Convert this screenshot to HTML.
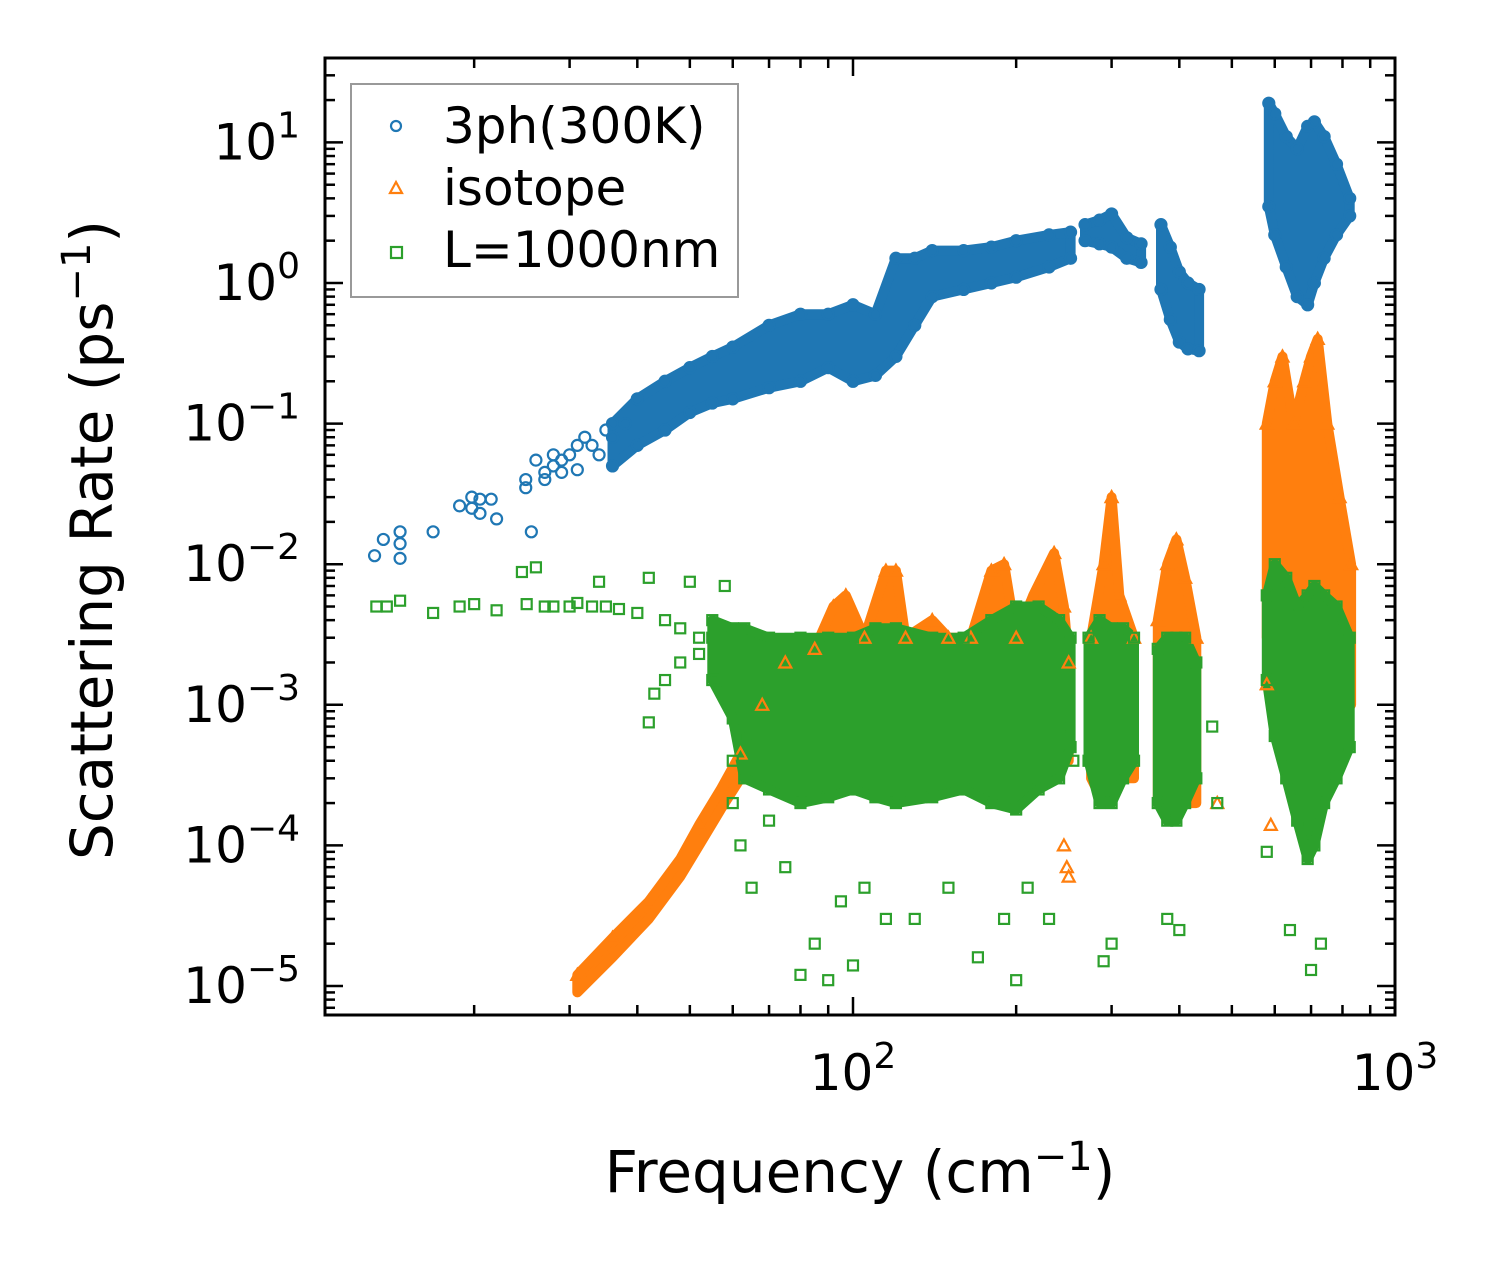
<!DOCTYPE html>
<html><head><meta charset="utf-8"><style>
html,body{margin:0;padding:0;background:#fff;}
svg{display:block;font-family:"DejaVu Sans","Liberation Sans",sans-serif;}
</style></head><body>
<svg id="chart" width="1503" height="1265" viewBox="0 0 1503 1265" xmlns="http://www.w3.org/2000/svg">
<rect x="0" y="0" width="1503" height="1265" fill="#fff"/>
<g id="bands"></g>
<g id="points"></g>
<g id="axes"></g>
<g>
<rect x="351" y="84" width="387" height="213" fill="#fff" fill-opacity="0.8" stroke="#999" stroke-width="2"/>
<g><circle cx="396" cy="126" r="5" fill="none" stroke="#1f77b4" stroke-width="2.2"/><text x="443" y="143" font-size="50">3ph(300K)</text></g>
<g><path d="M390 193 L402 193 L396 182 Z" fill="none" stroke="#ff7f0e" stroke-width="2.2"/><text x="443" y="205" font-size="50">isotope</text></g>
<g><rect x="391" y="247" width="11" height="11" fill="none" stroke="#2ca02c" stroke-width="2.2"/><text x="443" y="267" font-size="50">L=1000nm</text></g>
</g>
<text x="860" y="1192" font-size="58" text-anchor="middle">Frequency (cm<tspan dy="-22" font-size="40">−1</tspan><tspan dy="22">)</tspan></text>
<text transform="translate(112,540) rotate(-90)" font-size="58" text-anchor="middle">Scattering Rate (ps<tspan dy="-22" font-size="40">−1</tspan><tspan dy="22">)</tspan></text>
</svg>
<script>
// ---- data ----
const blueSparseF = [13.1,13.6,14.6,14.6,14.6,16.8,18.8,19.8,19.8,20.5,20.5,21.5,22,24.9,24.9,25.5,26,27,27,28,28,29,29,30,31,31,32,33,34,35,36,38];
const blueSparseY = [0.0115,0.015,0.011,0.014,0.017,0.017,0.026,0.030,0.025,0.029,0.023,0.029,0.021,0.040,0.035,0.017,0.055,0.040,0.045,0.050,0.060,0.045,0.055,0.060,0.070,0.047,0.080,0.070,0.060,0.090,0.080,0.100];
const blueClusters = [
  {f:[36,40,45,50,55,60,70,80,90,100,110,120,130,140,160,180,200,230,252], lo:[0.05,0.07,0.09,0.12,0.14,0.15,0.18,0.2,0.25,0.2,0.22,0.3,0.5,0.8,0.9,1.0,1.1,1.3,1.5], hi:[0.1,0.15,0.2,0.25,0.3,0.35,0.5,0.6,0.6,0.7,0.6,1.5,1.5,1.7,1.7,1.8,2.0,2.2,2.3]},
  {f:[268,285,300,320,340], lo:[2.0,1.9,1.8,1.5,1.4], hi:[2.6,2.8,3.1,2.1,1.9]},
  {f:[370,385,400,415,435], lo:[0.9,0.55,0.38,0.34,0.33], hi:[2.6,1.8,1.2,1.0,0.9]},
  {f:[585,600,630,660,690,710,740,780,825], lo:[3.5,2.2,1.3,0.8,0.7,1.0,1.5,2.2,3.0], hi:[19,16,11,9,13,14,11,7,4]}
];
const orangeClusters = [
  {f:[31,36,42,48,52,57,62,68,75,85,92,97,105,115,120,125,140,150,165,180,190,200,215,235,245,250], lo:[0.9e-5,1.6e-5,3e-5,6e-5,1e-4,1.8e-4,3e-4,4e-4,5e-4,5e-4,5e-4,5e-4,5e-4,5e-4,5e-4,5e-4,5e-4,5e-4,5e-4,5e-4,5e-4,5e-4,5e-4,5e-4,4e-4,4e-4], hi:[1.2e-5,2.2e-5,4e-5,8e-5,1.4e-4,2.5e-4,4.5e-4,1e-3,2e-3,2.5e-3,5e-3,6e-3,3e-3,9e-3,9e-3,3e-3,4e-3,3e-3,3e-3,9e-3,1e-2,3e-3,6e-3,1.2e-2,5e-3,2e-3]},
  {f:[275,290,300,310,330], lo:[3e-4,2e-4,2e-4,3e-4,3e-4], hi:[3e-3,1e-2,3e-2,6e-3,3e-3]},
  {f:[365,380,395,410,430], lo:[2e-4,2e-4,2e-4,2e-4,2e-4], hi:[4e-3,1e-2,1.5e-2,8e-3,3e-3]},
  {f:[580,600,620,650,680,700,720,750,790,830], lo:[3e-3,5e-3,3e-3,2e-3,1e-3,2e-3,3e-3,2e-3,1e-3,1e-3], hi:[0.1,0.2,0.3,0.1,0.2,0.3,0.4,0.1,0.03,0.01]}
];
const orangeSparseF = [245,248,250,580,590,470];
const orangeSparseY = [1e-4,7e-5,6e-5,1.4e-3,1.4e-4,2e-4];
const greenSparseF = [13.2,13.8,14.6,16.8,18.8,20,22,24.5,25,26,27,28,30,31,33,34,35,37,40,42,45,48,50,52,55,58,42,43,45,48,52,56,65,70,75,80,85,90,95,100,105,115,130,150,170,190,200,210,230,290,300,380,400,580,640,700,730,60,62,60,64,250,255,460,470];
const greenSparseY = [5e-3,5e-3,5.5e-3,4.5e-3,5e-3,5.2e-3,4.7e-3,8.8e-3,5.2e-3,9.5e-3,5e-3,5e-3,5e-3,5.3e-3,5e-3,7.5e-3,5e-3,4.8e-3,4.5e-3,8e-3,4e-3,3.5e-3,7.5e-3,3e-3,3e-3,7e-3,7.5e-4,1.2e-3,1.5e-3,2e-3,2.3e-3,1.5e-3,5e-5,1.5e-4,7e-5,1.2e-5,2e-5,1.1e-5,4e-5,1.4e-5,5e-5,3e-5,3e-5,5e-5,1.6e-5,3e-5,1.1e-5,5e-5,3e-5,1.5e-5,2e-5,3e-5,2.5e-5,9e-5,2.5e-5,1.3e-5,2e-5,2e-4,1e-4,4e-4,6e-4,7e-4,4e-4,7e-4,2e-4];
const greenClusters = [
  {f:[55,60,63,70,80,90,100,110,120,140,160,180,200,220,240,252], lo:[1.5e-3,8e-4,3e-4,2.5e-4,2e-4,2.2e-4,2.5e-4,2.2e-4,2e-4,2.2e-4,2.5e-4,2e-4,1.8e-4,2.5e-4,3e-4,5e-4], hi:[4e-3,3.5e-3,3.5e-3,3e-3,3e-3,3e-3,3e-3,3.5e-3,3.5e-3,3e-3,3e-3,4e-3,5e-3,5e-3,4e-3,3e-3]},
  {f:[272,285,300,315,330], lo:[4e-4,2e-4,2e-4,3e-4,4e-4], hi:[3e-3,4e-3,3.5e-3,3.5e-3,3e-3]},
  {f:[365,380,395,410,430], lo:[2e-4,1.5e-4,1.5e-4,2e-4,3e-4], hi:[2.5e-3,3e-3,3e-3,3e-3,2e-3]},
  {f:[580,600,630,660,690,710,740,780,825], lo:[1.5e-3,6e-4,3e-4,1.5e-4,8e-5,1e-4,2e-4,3e-4,5e-4], hi:[6e-3,1e-2,8e-3,5e-3,6e-3,7e-3,6e-3,5e-3,3e-3]}
];
const xTickVals = [100,1000];
const yTickExps = [1,0,-1,-2,-3,-4,-5];

// ---- axes ----
const L=325,R=1395,T=58,B=1015;
const X0=853, XD=542, Y0=283, YD=140.6;
const xs = f => X0 + (Math.log10(f)-2)*XD;
const ys = v => Y0 - Math.log10(v)*YD;
const NS="http://www.w3.org/2000/svg";
function mk(tag, attrs, parent){const e=document.createElementNS(NS,tag);for(const k in attrs)e.setAttribute(k,attrs[k]);parent.appendChild(e);return e;}
const bands=document.getElementById('bands'), pts=document.getElementById('points'), axes=document.getElementById('axes');
const colors={blue:'#1f77b4',orange:'#ff7f0e',green:'#2ca02c'};

function drawCluster(c, col, name, i){
  let d='';
  c.f.forEach((f,k)=>{d+=(k?'L':'M')+xs(f).toFixed(1)+' '+ys(c.hi[k]).toFixed(1);});
  for(let k=c.f.length-1;k>=0;k--) d+='L'+xs(c.f[k]).toFixed(1)+' '+ys(c.lo[k]).toFixed(1);
  d+='Z';
  const p=mk('path',{d:d,fill:col,stroke:col,'stroke-width':10,'stroke-linejoin':'round'},bands);
  
  
}
function marker(kind, f, v, col){
  const x=xs(f), y=ys(v); let e;
  if(kind==='circle') e=mk('circle',{cx:x,cy:y,r:5.5,fill:'none',stroke:col,'stroke-width':2.2},pts);
  else if(kind==='tri') e=mk('path',{d:`M${x-6} ${y+5} L${x+6} ${y+5} L${x} ${y-6} Z`,fill:'none',stroke:col,'stroke-width':2.2},pts);
  else e=mk('rect',{x:x-5,y:y-5,width:10,height:10,fill:'none',stroke:col,'stroke-width':2.2},pts);
  
  
}
function edgeMarkers(c, kind, col, loToo){
  c.f.forEach((f,k)=>{marker(kind,f,c.hi[k],col); if(loToo) marker(kind,f,c.lo[k],col);});
}
blueClusters.forEach((c,i)=>{drawCluster(c,colors.blue,'blue',i);edgeMarkers(c,'circle',colors.blue,true);});
blueSparseF.forEach((f,i)=>marker('circle',f,blueSparseY[i],colors.blue));
orangeClusters.forEach((c,i)=>{drawCluster(c,colors.orange,'orange',i);edgeMarkers(c,'tri',colors.orange,false);});
orangeSparseF.forEach((f,i)=>marker('tri',f,orangeSparseY[i],colors.orange));
greenClusters.forEach((c,i)=>{drawCluster(c,colors.green,'green',i);edgeMarkers(c,'sq',colors.green,true);});
greenSparseF.forEach((f,i)=>marker('sq',f,greenSparseY[i],colors.green));

const fr=mk('rect',{x:L,y:T,width:R-L,height:B-T,fill:'none',stroke:'#000','stroke-width':3},axes);


for(let dec=10;dec<=1000;dec*=10){
  for(let m=1;m<10;m++){
    const f=dec*m; const x=xs(f); if(x<L||x>R+0.5) continue;
    const len=(m===1)?18:10;
    mk('line',{x1:x,y1:B,x2:x,y2:B-len,stroke:'#000','stroke-width':2.5},axes);
    mk('line',{x1:x,y1:T,x2:x,y2:T+len,stroke:'#000','stroke-width':2.5},axes);
  }
}
xTickVals.forEach(v=>{
  const t=mk('text',{x:xs(v),y:1090,'font-size':50,'text-anchor':'middle'},axes);
  t.innerHTML='10<tspan dy="-22" font-size="36">'+Math.log10(v)+'</tspan>';
  
  
});
for(let e=-6;e<=1;e++){
  for(let m=1;m<10;m++){
    const v=m*Math.pow(10,e); const y=ys(v); if(y<T||y>B) continue;
    const len=m===1?18:10;
    mk('line',{x1:L,y1:y,x2:L+len,y2:y,stroke:'#000','stroke-width':2.5},axes);
    mk('line',{x1:R,y1:y,x2:R-len,y2:y,stroke:'#000','stroke-width':2.5},axes);
  }
}
yTickExps.forEach(e=>{
  const y=ys(Math.pow(10,e));
  const t=mk('text',{x:300,y:y+17,'font-size':50,'text-anchor':'end'},axes);
  t.innerHTML='10<tspan dy="-22" font-size="36">'+(e<0?'−'+(-e):e)+'</tspan>';
  
  
});
</script>
</body></html>
